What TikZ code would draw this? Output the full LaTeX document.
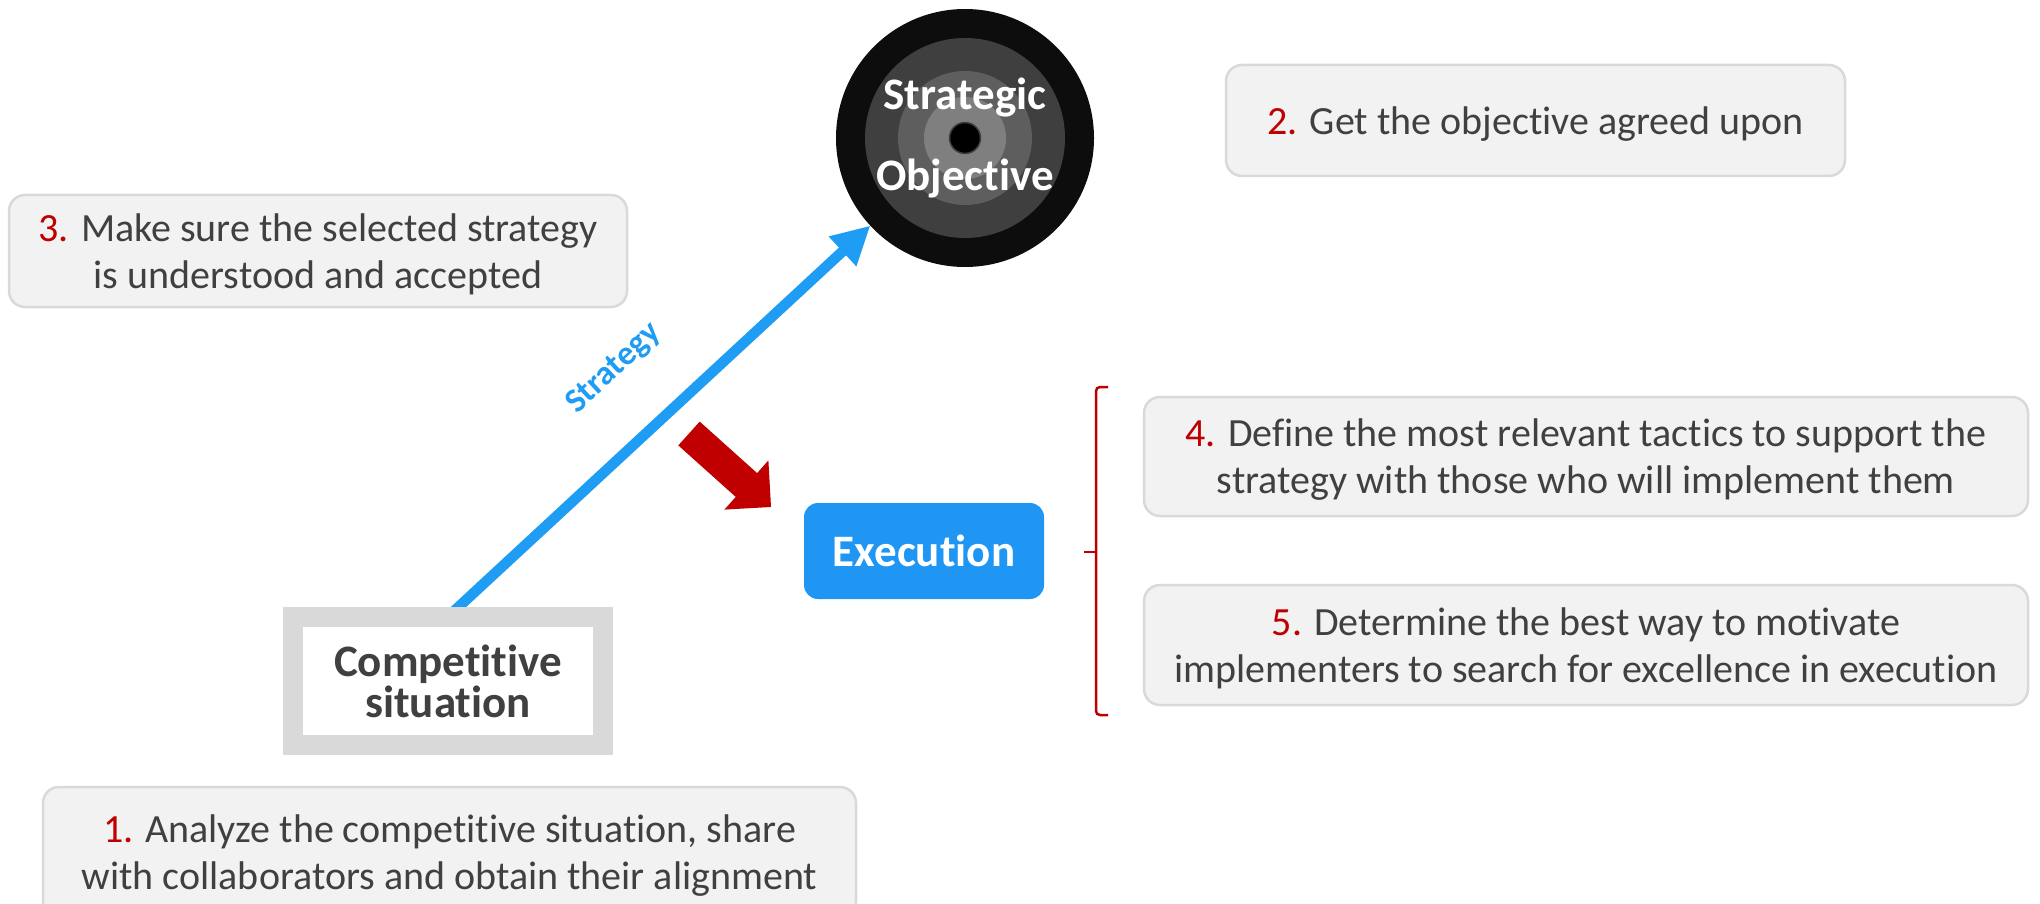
\documentclass[tikz,border=0pt]{standalone}
\usepackage{fontspec}
\setmainfont{Carlito}[RawFeature=-liga,RawFeature=-clig,RawFeature=-dlig,RawFeature=-calt,RawFeature=-rlig]
\usetikzlibrary{arrows.meta,calc,backgrounds}
\definecolor{txt}{HTML}{404040}
\definecolor{num}{HTML}{C00000}
\definecolor{boxfill}{HTML}{F2F2F2}
\definecolor{boxline}{HTML}{D9D9D9}
\definecolor{stratblue}{HTML}{1F9CF4}
\definecolor{execblue}{HTML}{1F96F3}
\definecolor{ringA}{HTML}{0D0D0D}
\definecolor{ringB}{HTML}{3F3F3F}
\definecolor{ringC}{HTML}{5E5E5E}
\definecolor{ringD}{HTML}{7F7F7F}
\newcommand\nm[1]{\textcolor{num}{#1}}
\tikzset{
  note/.style={draw=boxline, fill=boxfill, line width=2.5pt, rounded corners=16pt,
    align=center, text=txt, font=\fontsize{40}{47}\selectfont, inner sep=0pt, text depth=0pt},
  bigbold/.style={font=\fontsize{45}{41}\selectfont\bfseries, align=center, inner sep=0pt},
  bracketline/.style={draw=num, line width=2.5pt},
}
\begin{document}
\begin{tikzpicture}[x=1pt,y=-1pt]
\useasboundingbox (0,0) rectangle (2040,904);

% target
\node[circle, fill=ringA, minimum size=258pt, inner sep=0pt, outer sep=0pt] (obj) at (965,138) {};
\fill[ringB] (obj.center) circle (100pt);
\fill[ringC] (obj.center) circle (67pt);
\fill[ringD] (obj.center) circle (41pt);
\filldraw[fill=black, draw=ringB, line width=1.5pt] (obj.center) circle (15.5pt);
\node[bigbold, text=white, font=\fontsize{45}{81}\selectfont\bfseries] (objtext) at (965,138) {Strategic\\Objective};

% competitive situation
\node[draw=boxline, fill=white, line width=20pt, minimum width=310pt, minimum height=128pt,
      bigbold, text=txt] (comp) at (448,681) {Competitive\\situation};

% execution
\node[fill=execblue, rounded corners=14pt, minimum width=240pt, minimum height=96pt,
      text=white, font=\fontsize{45}{54}\selectfont\bfseries, inner sep=0pt] (exec) at (924,551) {Execution};

% notes
\node[note, minimum width=813pt, minimum height=130pt] (n1) at (449.5,852)
  {\nm{1.} Analyze the competitive situation, share\\with collaborators and obtain their alignment};
\node[note, minimum width=619pt, minimum height=111pt] (n2) at (1535.5,120.5)
  {\nm{2.} Get the objective agreed upon};
\node[note, minimum width=618pt, minimum height=112pt] (n3) at (318,251)
  {\nm{3.} Make sure the selected strategy\\is understood and accepted};
\node[note, minimum width=884pt, minimum height=119pt] (n4) at (1586,456.5)
  {\nm{4.} Define the most relevant tactics to support the\\strategy with those who will implement them};
\node[note, minimum width=884pt, minimum height=120pt] (n5) at (1586,645)
  {\nm{5.} Determine the best way to motivate\\implementers to search for excellence in execution};

% strategy arrow
\coordinate (cs) at (452,613);
\begin{pgfonlayer}{background}
\draw[stratblue, line width=10.5pt, -{Triangle[length=38pt,width=38pt]}] (cs) -- (obj)
  node[pos=0.5, sloped, above=50pt, text=stratblue, font=\fontsize{34}{38}\selectfont\bfseries, inner sep=0pt] (stratlab) {Strategy};
\end{pgfonlayer}

% red block arrow
\fill[num] (699.7,421.6) -- (757.1,473.1) -- (768.4,460.4) -- (771,507) -- (724.4,509.6) -- (735.7,496.9) -- (678.3,445.4) -- cycle;

% bracket
\draw[bracketline, rounded corners=4pt] (1108,387) -- (1096,387) -- (1096,715) -- (1108,715);
\draw[bracketline] (1096,552) -- (1084,552);
\end{tikzpicture}
\end{document}
